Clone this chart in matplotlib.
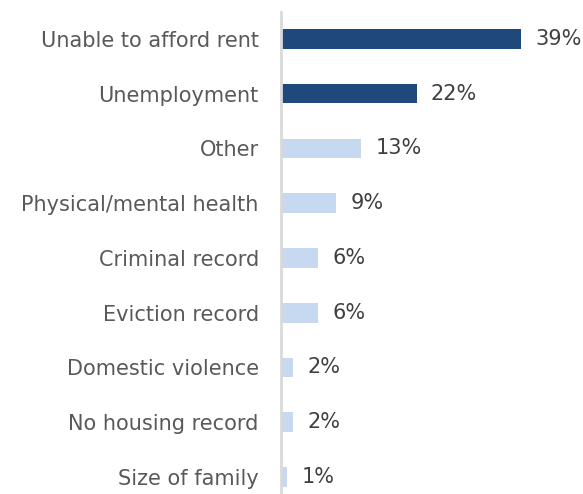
import matplotlib
matplotlib.use("Agg")
import matplotlib.pyplot as plt

categories = ["Unable to afford rent", "Unemployment", "Other", "Physical/mental health",
              "Criminal record", "Eviction record", "Domestic violence", "No housing record",
              "Size of family"]
values = [39, 22, 13, 9, 6, 6, 2, 2, 1]
highlight = [True, True, False, False, False, False, False, False, False]

dark = "#1F497D"
light = "#C6D9F1"

fig = plt.figure(figsize=(5.83, 4.94), dpi=100)
ax = fig.add_axes([281 / 583, 0, 302 / 583, 482 / 494])

ypos = list(range(len(categories)))
colors = [dark if h else light for h in highlight]
ax.barh(ypos, values, height=0.36, color=colors)

for y, v in zip(ypos, values):
    ax.text(v + 2.3, y, f"{v}%", va="center", ha="left", fontsize=15, color="#404040")

ax.set_xlim(0, 49)
ax.set_ylim(8.31, -0.49)
ax.set_yticks(ypos)
ax.set_yticklabels(categories, fontsize=15, color="#595959")
ax.tick_params(axis="y", length=0, pad=16)
ax.set_xticks([])
for s in ["top", "right", "bottom"]:
    ax.spines[s].set_visible(False)
ax.spines["left"].set_color("#D9D9D9")
ax.spines["left"].set_linewidth(2)

fig.savefig("out.png", dpi=100)
